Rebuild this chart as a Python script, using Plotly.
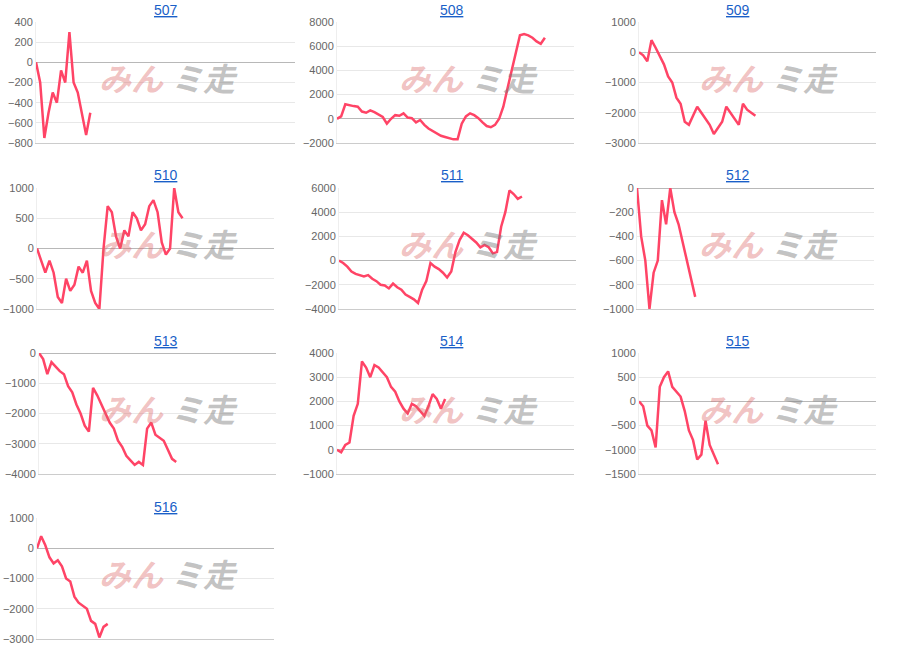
import plotly.graph_objects as go

# machine numbers (panel titles)
machines = ["507", "508", "509", "510", "511", "512", "513", "514", "515", "516"]

# cumulative balance per game sample
s507 = [0, -200, -750, -500, -300, -400, -80, -200, 300, -200, -300, -500, -720, -500]
s508 = [0, 200, 1200, 1100, 1050, 1000, 600, 500, 700, 550, 350, 150, -400, 0, 300, 250, 450,
        100, 50, -300, -100, -500, -800, -1000, -1200, -1400, -1500, -1600, -1700, -1700, -400,
        200, 450, 300, 50, -300, -600, -700, -500, 0, 1000, 2500, 4000, 5500, 6900, 7000, 6900,
        6700, 6400, 6200, 6700]
s509 = [0, -100, -300, 400, 150, -150, -400, -800, -1000, -1500, -1700, -2300, -2400, -2100,
        -1800, -2000, -2200, -2400, -2700, -2500, -2300, -1800, -2000, -2200, -2400, -1700,
        -1900, -2000, -2100]
s510 = [0, -200, -400, -200, -400, -800, -900, -500, -700, -600, -300, -400, -200, -700, -900,
        -1000, 0, 700, 600, 200, 0, 300, 200, 600, 500, 300, 400, 700, 800, 600, 100, -100, 0,
        1000, 600, 500]
s511 = [0, -200, -500, -900, -1100, -1200, -1300, -1200, -1500, -1700, -2000, -2050, -2300,
        -1900, -2200, -2400, -2800, -3000, -3200, -3500, -2400, -1700, -200, -500, -700, -1000,
        -1400, -900, 700, 1700, 2300, 2100, 1800, 1500, 1100, 1300, 1100, 600, 700, 2800, 4000,
        5800, 5500, 5100, 5300]
s512 = [0, -400, -600, -1000, -700, -600, -100, -300, 0, -200, -300, -450, -600, -750, -900]
s513 = [0, -200, -700, -300, -450, -600, -700, -1100, -1300, -1700, -2000, -2400, -2600, -1150,
        -1400, -1700, -2000, -2300, -2500, -2900, -3100, -3400, -3550, -3700, -3600, -3700,
        -2500, -2300, -2700, -2800, -2900, -3200, -3500, -3600]
s514 = [0, -100, 200, 300, 1400, 1900, 3650, 3400, 3000, 3500, 3400, 3200, 3000, 2600, 2400,
        2000, 1700, 1500, 1900, 1800, 1600, 1400, 1800, 2300, 2100, 1700, 2100]
s515 = [0, -100, -500, -600, -950, 300, 500, 620, 300, 200, 100, -200, -600, -800, -1200,
        -1100, -400, -900, -1100, -1300]
s516 = [0, 400, 100, -300, -500, -400, -600, -1000, -1100, -1600, -1800, -1900, -2000, -2400,
        -2500, -2950, -2600, -2500]
series = [s507, s508, s509, s510, s511, s512, s513, s514, s515, s516]

# y-axis ranges and ticks per panel
yranges = [(-800, 400, 200), (-2000, 8000, 2000), (-3000, 1000, 1000), (-1000, 1000, 500),
           (-4000, 6000, 2000), (-1000, 0, 200), (-4000, 0, 1000), (-1000, 4000, 1000),
           (-1500, 1000, 500), (-3000, 1000, 1000)]

# pixel boxes (left, right, top, bottom)
lefts = [36, 337, 639, 37, 339, 637, 39, 337, 639, 37]
rights = [295, 574, 876, 274, 576, 874, 276, 574, 876, 274]
tops = [22, 22, 22, 188, 188, 188, 353, 353, 353, 518]
bottoms = [143, 143, 143, 309, 309, 309, 474, 474, 474, 639]

W, H = 900, 660
fig = go.Figure()
for i, (name, ys) in enumerate(zip(machines, series)):
    n = "" if i == 0 else str(i + 1)
    fig.add_trace(go.Scatter(x=list(range(len(ys))), y=ys, mode="lines",
                             line=dict(color="#ff4466", width=2.5),
                             xaxis="x" + n, yaxis="y" + n, showlegend=False,
                             hoverinfo="skip"))
    lo, hi, step = yranges[i]
    xspan = 62 if i == 0 else 57
    fig.layout["xaxis" + n] = dict(domain=[lefts[i] / W, rights[i] / W], range=[0, xspan],
                                   showticklabels=False, showgrid=False, zeroline=False,
                                   showline=True, linecolor="#cccccc", anchor="y" + n,
                                   automargin=False)
    fig.layout["yaxis" + n] = dict(domain=[1 - bottoms[i] / H, 1 - tops[i] / H],
                                   range=[lo, hi], dtick=step, tick0=0,
                                   gridcolor="#e8e8e8", zeroline=True, zerolinecolor="#b8b8b8",
                                   zerolinewidth=1, showline=True, linecolor="#eeeeee",
                                   tickfont=dict(size=11, color="#666666", family="Arial"),
                                   anchor="x" + n, automargin=False)
    cx = (i % 3) * 300 + 152
    ty = 10 + (i // 3) * 165.5
    fig.add_annotation(x=cx / W, y=1 - ty / H, xref="paper", yref="paper",
                       yanchor="middle", text="<u>" + name + "</u>", showarrow=False,
                       font=dict(size=14, color="#1a5fc8", family="Arial"))
    # watermark
    wx = (i % 3) * 300 + 97
    wy = tops[i] + 55
    fig.add_annotation(x=wx / W, y=1 - wy / H, xref="paper", yref="paper", yanchor="middle",
                       xanchor="left", text="<b><i>みん</i></b>", showarrow=False,
                       font=dict(size=32, color="rgba(220,100,100,0.4)", family="Noto Sans CJK JP"))
    fig.add_annotation(x=(wx + 72) / W, y=1 - wy / H, xref="paper", yref="paper", yanchor="middle",
                       xanchor="left", text="<b><i>ミ走</i></b>", showarrow=False,
                       font=dict(size=32, color="rgba(120,120,120,0.45)", family="Noto Sans CJK JP"))

fig.update_layout(width=W, height=H, margin=dict(l=0, r=0, t=0, b=0),
                  plot_bgcolor="white", paper_bgcolor="white")
fig.write_html("out.html", config={"displayModeBar": False},
               post_script="document.body.style.margin='0';")
